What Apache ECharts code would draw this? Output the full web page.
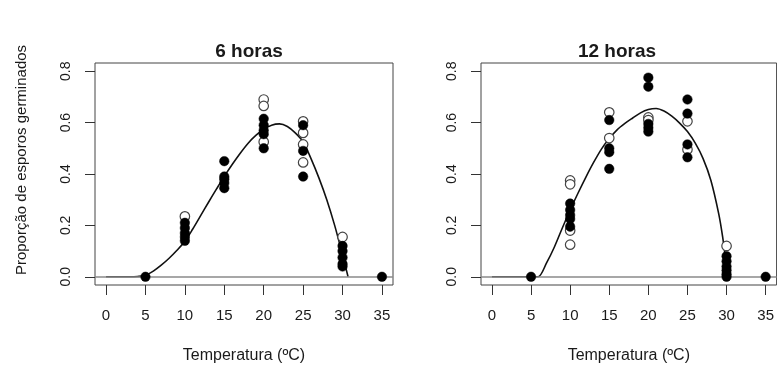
<!DOCTYPE html>
<html>
<head>
<meta charset="utf-8">
<script src="https://cdn.jsdelivr.net/npm/echarts@6/dist/echarts.min.js"></script>
<style>
  html, body { margin: 0; padding: 0; background: #fff; }
  #chart { width: 777px; height: 372px; }
</style>
</head>
<body>
<div id="chart"></div>
<script>
// Germination proportion of spores vs. temperature, two exposure times
const panelTitles = ['6 horas', '12 horas'];
const xTicks = [0, 5, 10, 15, 20, 25, 30, 35];
const yTicks = [0, 0.2, 0.4, 0.6, 0.8];
const xName = 'Temperatura (ºC)';
const yName = 'Proporção de esporos germinados';

// 6 horas: observations (filled and open symbols) as [temperature, proportion]
const filled6 = [
  [5, 0],
  [10, 0.21], [10, 0.19], [10, 0.17], [10, 0.155], [10, 0.14],
  [15, 0.45], [15, 0.39], [15, 0.38], [15, 0.365], [15, 0.345],
  [20, 0.615], [20, 0.59], [20, 0.57], [20, 0.555], [20, 0.50],
  [25, 0.59], [25, 0.49], [25, 0.39],
  [30, 0.12], [30, 0.10], [30, 0.075], [30, 0.05], [30, 0.04],
  [35, 0]
];
const open6 = [
  [10, 0.235],
  [20, 0.69], [20, 0.665], [20, 0.525],
  [25, 0.605], [25, 0.56], [25, 0.515], [25, 0.445],
  [30, 0.155]
];
// 6 horas: fitted curve
const curveX6 = [0, 1, 2, 3, 4, 5, 6, 7, 8, 9, 10, 11, 12, 13, 14, 15, 16, 17, 18, 19, 20, 21, 22, 23, 24, 25, 26, 27, 28, 29, 30, 30.7];
const curveY6 = [0, 0, 0, 0, 0.001, 0.005, 0.022, 0.045, 0.072, 0.103, 0.138, 0.186, 0.238, 0.290, 0.341, 0.391, 0.437, 0.480, 0.519, 0.550, 0.574, 0.590, 0.595, 0.585, 0.560, 0.525, 0.460, 0.385, 0.300, 0.200, 0.085, 0];

// 12 horas: observations
const filled12 = [
  [5, 0],
  [10, 0.285], [10, 0.26], [10, 0.24], [10, 0.225], [10, 0.195],
  [15, 0.61], [15, 0.50], [15, 0.485], [15, 0.42],
  [20, 0.775], [20, 0.74], [20, 0.595], [20, 0.58], [20, 0.565],
  [25, 0.69], [25, 0.635], [25, 0.515], [25, 0.465],
  [30, 0.08], [30, 0.06], [30, 0.04], [30, 0.025], [30, 0.01], [30, 0],
  [35, 0]
];
const open12 = [
  [10, 0.375], [10, 0.36], [10, 0.18], [10, 0.125],
  [15, 0.64], [15, 0.54],
  [20, 0.62], [20, 0.61],
  [25, 0.605], [25, 0.495],
  [30, 0.12]
];
// 12 horas: fitted curve
const curveX12 = [0, 1, 2, 3, 4, 5, 5.9, 7, 8, 9, 10, 11, 12, 13, 14, 15, 16, 17, 18, 19, 20, 21, 22, 23, 24, 25, 26, 27, 28, 29, 29.5, 30, 30.2];
const curveY12 = [0, 0, 0, 0, 0, 0, 0, 0.055, 0.117, 0.190, 0.260, 0.325, 0.387, 0.445, 0.497, 0.538, 0.572, 0.597, 0.618, 0.638, 0.651, 0.655, 0.645, 0.625, 0.598, 0.565, 0.520, 0.460, 0.375, 0.245, 0.155, 0.040, 0];

const FONT = '"Liberation Sans", Arial, sans-serif';
const TXT = '#1a1a1a';

const grids = [
  { left: 95, top: 63, width: 298, height: 222 },
  { left: 481, top: 63, width: 297, height: 222 }
];

function xAxisFor(i) {
  return {
    type: 'value', gridIndex: i, min: -1.4, max: 36.4,
    splitLine: { show: false },
    axisLine: { show: false, onZero: false },
    axisTick: { show: true, inside: false, length: 10, customValues: xTicks, lineStyle: { color: '#333', width: 1 } },
    axisLabel: { customValues: xTicks, margin: 23, color: TXT, fontFamily: FONT, fontSize: 15 },
    name: xName, nameLocation: 'middle', nameGap: 63,
    nameTextStyle: { color: TXT, fontFamily: FONT, fontSize: 16 }
  };
}
function yAxisFor(i) {
  return {
    type: 'value', gridIndex: i, min: -0.032, max: 0.832,
    splitLine: { show: false },
    axisLine: { show: false, onZero: false },
    axisTick: { show: true, inside: false, length: 10, customValues: yTicks, lineStyle: { color: '#333', width: 1 } },
    axisLabel: { customValues: yTicks, rotate: 90, margin: 22, color: TXT, fontFamily: FONT, fontSize: 14,
      formatter: v => v.toFixed(1) },
    name: i === 0 ? yName : '', nameLocation: 'middle', nameGap: 66,
    nameTextStyle: { color: TXT, fontFamily: FONT, fontSize: 15, padding: [0, 0, 0, 28] }
  };
}
function zip(xs, ys) { return xs.map((x, k) => [x, ys[k]]); }

function panelSeries(i, filled, open, cx, cy) {
  return [
    {
      type: 'line', xAxisIndex: i, yAxisIndex: i, data: zip(cx, cy),
      showSymbol: false, smooth: 0.3, silent: true,
      lineStyle: { color: '#111', width: 1.6 },
      markLine: {
        silent: true, symbol: 'none', label: { show: false },
        lineStyle: { color: '#8a8a8a', width: 1.5, type: 'solid' },
        data: [{ yAxis: 0 }]
      },
      z: 3
    },
    {
      type: 'scatter', xAxisIndex: i, yAxisIndex: i, data: open,
      symbol: 'circle', symbolSize: 9.5,
      itemStyle: { color: '#fff', borderColor: '#444', borderWidth: 1.2, opacity: 1 },
      z: 4
    },
    {
      type: 'scatter', xAxisIndex: i, yAxisIndex: i, data: filled,
      symbol: 'circle', symbolSize: 9.5,
      itemStyle: { color: '#000', borderColor: '#000', borderWidth: 0.5, opacity: 1 },
      z: 5
    }
  ];
}

const chart = echarts.init(document.getElementById('chart'), null, { renderer: 'canvas' });
chart.setOption({
  animation: false,
  backgroundColor: '#fff',
  title: [
    { text: panelTitles[0], left: 244, top: 37, textAlign: 'center',
      textStyle: { fontFamily: FONT, fontSize: 19, fontWeight: 'bold', color: TXT } },
    { text: panelTitles[1], left: 612, top: 37, textAlign: 'center',
      textStyle: { fontFamily: FONT, fontSize: 19, fontWeight: 'bold', color: TXT } }
  ],
  grid: grids.map(g => Object.assign({ show: true, borderColor: '#444', borderWidth: 1, backgroundColor: 'transparent' }, g)),
  xAxis: [xAxisFor(0), xAxisFor(1)],
  yAxis: [yAxisFor(0), yAxisFor(1)],
  series: [
    ...panelSeries(0, filled6, open6, curveX6, curveY6),
    ...panelSeries(1, filled12, open12, curveX12, curveY12)
  ]
});
</script>
</body>
</html>
